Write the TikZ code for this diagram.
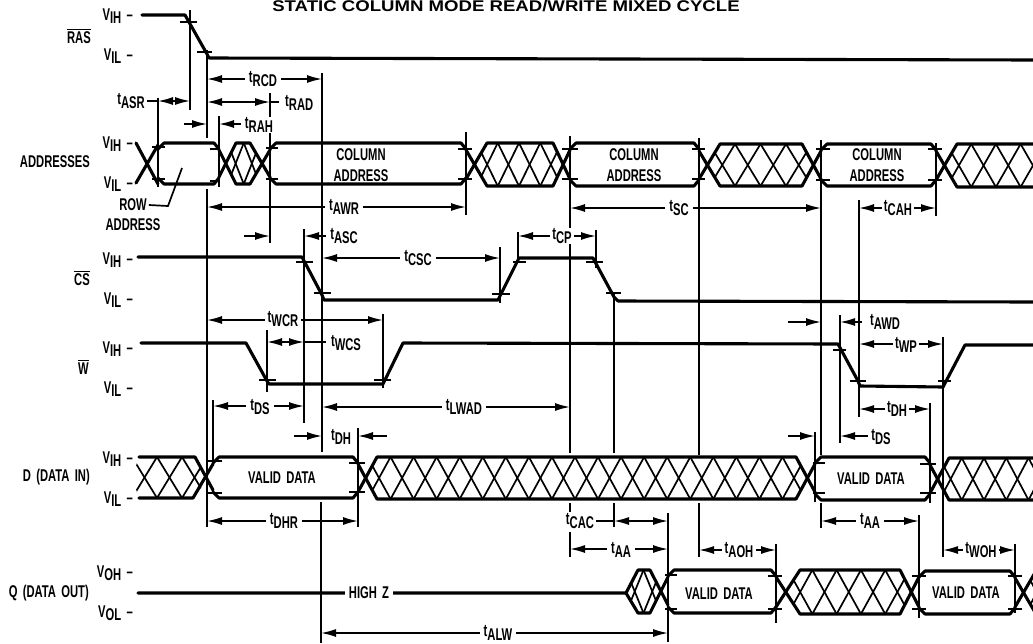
\documentclass[tikz,border=0pt]{standalone}
\usepackage{fontspec}
\usepackage{amsmath}
\newfontfamily\lblfont[FakeStretch=0.66,WordSpace=1.7]{Liberation Sans Bold}
\newfontfamily\ttlfont[FakeStretch=1.2]{Liberation Sans Bold}
\usetikzlibrary{arrows.meta}

% letter followed by a lowered index of the same size
\newcommand{\lo}[2]{#1\raisebox{-3.5pt}{#2}}
\newcommand{\barred}[1]{$\overline{\mbox{#1}}$}
% thin diamond lattice: crossing, flat, flat, crossing, top, bottom, cells
\newcommand{\latt}[7]{%
  \begin{scope}
    \clip ({#1},{(#5+#6)/2}) -- (#2,#5) -- (#3,#5) -- ({#4},{(#5+#6)/2}) -- (#3,#6) -- (#2,#6) -- cycle;
    \pgfmathsetmacro{\lp}{(#4-#1)/#7}
    \foreach \k in {0,...,#7} {
      \draw[hatchline] ({#1+(\k-1)*\lp},#5) -- ({#1+\k*\lp},#6);
      \draw[hatchline] ({#1+(\k-1)*\lp},#6) -- ({#1+\k*\lp},#5);
    }
  \end{scope}}
% changing bus: box edge, flat, flat, box edge, top, bottom, cells
\newcommand{\xbus}[7]{%
  \latt{((#1+#2)/2)}{#2}{#3}{((#3+#4)/2)}{#5}{#6}{#7}
  \draw[sig] (#1,{#5+7}) -- (#2,#6) -- (#3,#6) -- (#4,{#5+7});
  \draw[sig] (#1,{#6-7}) -- (#2,#5) -- (#3,#5) -- (#4,{#6-7});}
% stable bus: left edge, right edge, top, bottom
\newcommand{\vbus}[4]{%
  \draw[sig] (#1,{#3+6}) -- ({#1+6},#3) -- ({#2-5},#3) -- (#2,{#3+6});
  \draw[sig] (#1,{#4-6}) -- ({#1+6},#4) -- ({#2-5},#4) -- (#2,{#4-6});}

\tikzset{
  sig/.style={line width=3.1pt,line cap=round,line join=round},
  hatchline/.style={line width=1.7pt},
  guide/.style={line width=1.7pt},
  dimline/.style={line width=1.6pt},
  tick/.style={line width=1.4pt},
  lbl/.style={font=\lblfont\fontsize{17}{19}\selectfont,inner sep=0pt,align=center},
  tlbl/.style={lbl,fill=white,inner xsep=4pt,inner ysep=1pt},
}

\begin{document}
\begin{tikzpicture}[x=1pt,y=-1pt,>={Latex[length=15pt,width=8pt]}]
  \useasboundingbox (0,0) rectangle (1033,643);
  \clip (0,0) rectangle (1033,643);
  \node[font=\ttlfont\fontsize{15.5}{17}\selectfont,anchor=base,inner sep=0pt] (title) at (506,11) {STATIC COLUMN MODE READ/WRITE MIXED CYCLE};

  % left: signal names
  \node[lbl,anchor=east] (ras) at (91,36) {\barred{RAS}};
  \node[lbl,anchor=east] (addr) at (90,162) {ADDRESSES};
  \node[lbl,anchor=east] (cs) at (90,278) {\barred{CS}};
  \node[lbl,anchor=east] (we) at (89,367) {\barred{W}};
  \node[lbl,anchor=east] (din) at (90,477) {D (DATA IN)};
  \node[lbl,anchor=east] (dout) at (89,593) {Q (DATA OUT)};
  \node[lbl] (rowa) at (133,205) {ROW};
  \node[lbl] (rowb) at (133,225) {ADDRESS};
  \draw[guide] (rowa.east) ++(2,0) -- (168,206) -- (182,168);

  % left: levels
  \foreach \lv/\ly/\lt in {a/15/IH,b/55/IL,c/143/IH,d/183/IL,e/259/IH,f/299/IL,
      g/348/IH,h/388/IL,i/458/IH,j/498/IL,k/572/OH,l/612/OL} {
    \node[lbl,anchor=base east] (lev\lv) at (133,\ly+5) {\lo{V}{\lt}\ –};
  }

  % RAS, CS, W
  \draw[sig] (142,15) -- (185,15) -- (207,54) -- (209,58) -- (1033,60);
  \draw[sig] (138,257) -- (302,257) -- (322,295) -- (324,300) -- (498,300) -- (519,258) -- (593,258) -- (614,297) -- (618,301) -- (1033,302);
  \draw[sig] (141,343) -- (246,343) -- (267,381) -- (269,384) -- (383,384) -- (403,343) -- (838,344) -- (858,381) -- (860,386) -- (943,387) -- (965,345) -- (1033,345);

  % addresses
  \draw[sig] (136,143) -- (158,184);
  \draw[sig] (136,183) -- (158,145);
  \vbus{158}{219}{143}{184}
  \xbus{219}{236}{250}{270}{143}{184}{2}
  \vbus{270}{466}{143}{184}
  \xbus{466}{487}{553}{570}{143}{186}{4}
  \vbus{570}{699}{143}{186}
  \xbus{699}{720}{802}{821}{144}{186}{4}
  \vbus{821}{936}{144}{186}
  \xbus{936}{957}{1060}{1080}{144}{187}{5}

  % data in
  \latt{132}{139}{195}{207}{457}{498}{3}
  \draw[sig] (139,457) -- (195,457) -- (213,490);
  \draw[sig] (139,498) -- (193,498) -- (213,464);
  \vbus{213}{358}{457}{498}
  \xbus{358}{377}{796}{815}{457}{499}{19}
  \vbus{815}{930}{457}{500}
  \xbus{930}{949}{1063}{1083}{458}{500}{6}

  % data out
  \latt{626}{638}{650}{661}{570}{613}{2}
  \draw[sig] (138,593) -- (626,593) -- (638,570) -- (650,570) -- (668,605);
  \draw[sig] (626,593) -- (638,613) -- (650,613) -- (668,577);
  \vbus{668}{776}{570}{613}
  \xbus{776}{800}{900}{919}{570}{614}{5}
  \vbus{919}{1015}{571}{614}
  \xbus{1015}{1036}{1060}{1080}{571}{614}{2}

  % timing ticks on the edges
  \foreach \ta/\tb/\ty in {180/197/22,197/212/52,152/165/147,152/165/179,210/220/149,210/220/181,
      266/278/148,266/278/179,458/472/149,458/472/179,562/578/149,562/578/179,692/705/149,692/705/179,
      816/830/149,816/830/180,928/942/149,928/942/180,
      296/313/262,314/331/293,492/510/294,513/526/262,586/603/262,606/621/293,
      259/276/380,374/391/380,833/846/350,850/866/381,938/951/381,
      208/222/461,208/222/493,349/365/463,349/365/492,813/825/463,813/825/493,920/936/464,920/936/493,
      665/677/575,665/677/609,768/782/576,768/782/609,912/926/576,912/926/609,1008/1022/576,1008/1022/609} {
    \draw[tick] (\ta,\ty) -- (\tb,\ty);
  }

  % guides
  \foreach \gx/\ga/\gb in {190/10/110,207/50/138,207/189/527,322/73/452,321/502/643,270/93/243,158/98/187,
      219/116/187,466/132/215,570/136/453,570/503/512,570/532/557,699/138/455,699/503/557,821/140/455,821/503/528,
      936/143/216,859/200/417,304/229/423,500/247/303,518/232/262,596/230/268,614/292/453,614/503/527,
      267/330/392,383/314/388,840/315/443,943/337/557,213/400/463,358/428/527,815/432/502,930/403/503,
      668/513/642,776/544/623,919/515/618,1015/544/613} {
    \draw[guide] (\gx,\ga) -- (\gx,\gb);
  }

  % arrows between guides
  \draw[dimline,<->] (207,79) -- (322,79);
  \draw[dimline,<->] (207,102) -- (270,102);
  \draw[dimline] (270,102) -- (279,102);
  \draw[dimline,<->] (158,101) -- (190,101);
  \draw[dimline] (147,101) -- (158,101);
  \draw[dimline,->] (184,124) -- (207,124);
  \draw[dimline,<-] (219,124) -- (241,124);
  \draw[dimline,<->] (207,207) -- (466,207);
  \draw[dimline,<->] (570,208) -- (821,208);
  \draw[dimline,<->] (859,208) -- (936,208);
  \draw[dimline,->] (244,236) -- (270,236);
  \draw[dimline,<-] (304,236) -- (326,236);
  \draw[dimline,<->] (322,258) -- (500,258);
  \draw[dimline,<->] (518,236) -- (596,236);
  \draw[dimline,<->] (207,320) -- (383,320);
  \draw[dimline,<->] (267,342) -- (304,342);
  \draw[dimline] (304,342) -- (326,342);
  \draw[dimline,<->] (213,406) -- (304,406);
  \draw[dimline,<->] (322,407) -- (570,407);
  \draw[dimline,->] (294,436) -- (322,436);
  \draw[dimline,<-] (358,436) -- (387,436);
  \draw[dimline,<->] (207,521) -- (358,521);
  \draw[dimline,<->] (321,633) -- (668,633);
  \draw[dimline,->] (788,322) -- (821,322);
  \draw[dimline,<-] (840,322) -- (862,322);
  \draw[dimline,<->] (859,344) -- (943,344);
  \draw[dimline,<->] (859,409) -- (930,409);
  \draw[dimline,<-] (840,436) -- (868,436);
  \draw[dimline,->] (788,436) -- (815,436);
  \draw[dimline] (590,521) -- (614,521);
  \draw[dimline,<->] (614,521) -- (668,521);
  \draw[dimline,<->] (570,549) -- (668,549);
  \draw[dimline,<->] (699,550) -- (776,550);
  \draw[dimline,<->] (821,521) -- (919,521);
  \draw[dimline,<->] (943,550) -- (1015,550);

  % texts on the arrows
  \node[tlbl] (trcd) at (263,79) {\lo{t}{RCD}};
  \node[tlbl,anchor=west] (trad) at (281,103) {\lo{t}{RAD}};
  \node[tlbl,inner xsep=1pt] (tasr) at (131,101) {\lo{t}{ASR}};
  \node[tlbl,inner xsep=2pt] (trah) at (259,125) {\lo{t}{RAH}};
  \node[tlbl] (tawr) at (344,207) {\lo{t}{AWR}};
  \node[tlbl] (tsc) at (679,208) {\lo{t}{SC}};
  \node[tlbl,inner xsep=2pt] (tcah) at (898,208) {\lo{t}{CAH}};
  \node[tlbl,inner xsep=2pt] (tasc) at (344,236) {\lo{t}{ASC}};
  \node[tlbl] (tcsc) at (418,258) {\lo{t}{CSC}};
  \node[tlbl,inner xsep=2pt] (tcp) at (562,236) {\lo{t}{CP}};
  \node[tlbl,inner xsep=3pt] (twcr) at (283,319) {\lo{t}{WCR}};
  \node[tlbl,inner xsep=2pt] (twcs) at (346,343) {\lo{t}{WCS}};
  \node[tlbl] (tds) at (260,407) {\lo{t}{DS}};
  \node[tlbl] (tlwad) at (464,407) {\lo{t}{LWAD}};
  \node[tlbl,inner xsep=2pt] (tdh) at (341,437) {\lo{t}{DH}};
  \node[tlbl] (tdhr) at (284,521) {\lo{t}{DHR}};
  \node[tlbl] (thz) at (369,593) {HIGH Z};
  \node[tlbl] (talw) at (498,633) {\lo{t}{ALW}};
  \node[tlbl,inner xsep=2pt] (tawd) at (885,322) {\lo{t}{AWD}};
  \node[tlbl,inner xsep=2pt] (twp) at (906,345) {\lo{t}{WP}};
  \node[tlbl,inner xsep=2pt] (tdhb) at (897,409) {\lo{t}{DH}};
  \node[tlbl,inner xsep=2pt] (tdsb) at (881,437) {\lo{t}{DS}};
  \node[tlbl,inner xsep=2pt] (tcac) at (580,521) {\lo{t}{CAC}};
  \node[tlbl] (taa) at (621,550) {\lo{t}{AA}};
  \node[tlbl,inner xsep=3pt] (taoh) at (739,550) {\lo{t}{AOH}};
  \node[tlbl] (taab) at (870,521) {\lo{t}{AA}};
  \node[tlbl,inner xsep=2pt] (twoh) at (981,550) {\lo{t}{WOH}};

  % texts in the buses
  \node[lbl] (cola) at (361,165) {COLUMN\\[2pt]ADDRESS};
  \node[lbl] (colb) at (634,165) {COLUMN\\[2pt]ADDRESS};
  \node[lbl] (colc) at (877,165) {COLUMN\\[2pt]ADDRESS};
  \node[lbl] (vda) at (282,478) {VALID DATA};
  \node[lbl] (vdb) at (871,479) {VALID DATA};
  \node[lbl] (vdc) at (719,594) {VALID DATA};
  \node[lbl] (vdd) at (966,593) {VALID DATA};
\end{tikzpicture}
\end{document}
